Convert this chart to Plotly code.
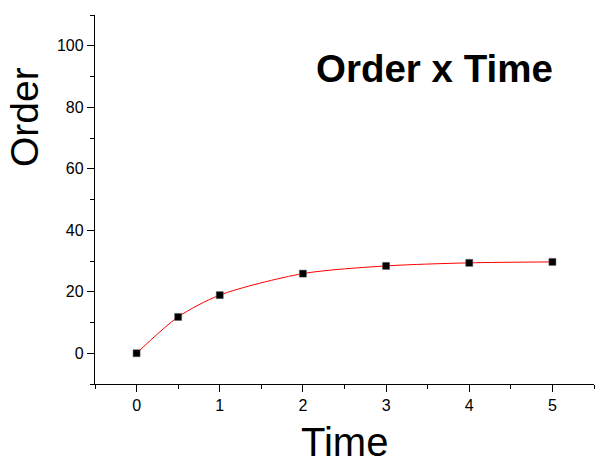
import plotly.graph_objects as go

time = [0, 0.5, 1, 2, 3, 4, 5]
order = [0, 11.8, 18.9, 25.9, 28.4, 29.4, 29.7]
title_text = "Order x Time"
x_title = "Time"
y_title = "Order"
y_ticks = [0, 20, 40, 60, 80, 100]
x_ticks = [0, 1, 2, 3, 4, 5]

font = "Liberation Sans, Arial, sans-serif"

fig = go.Figure()
fig.add_trace(go.Scatter(
    x=time, y=order, mode="lines",
    line=dict(color="#ff0000", width=1, shape="spline", smoothing=0.8),
    hoverinfo="skip", showlegend=False,
))
fig.add_trace(go.Scatter(
    x=time, y=order, mode="markers",
    marker=dict(symbol="square", size=7, color="black",
                line=dict(color="#555555", width=0.5)),
    showlegend=False,
))

axis_common = dict(
    showgrid=False, zeroline=False, showline=True, linecolor="black", linewidth=1.3,
    ticks="outside", ticklen=7, tickwidth=1.3, tickcolor="black",
    tickfont=dict(family=font, size=16, color="black"),
)

fig.update_xaxes(range=[-0.5, 5.5], tickvals=x_ticks,
                 minor=dict(dtick=0.5, ticks="outside", ticklen=4, tickwidth=1.3, tickcolor="black"),
                 **axis_common)
fig.update_yaxes(range=[-10, 110], tickvals=y_ticks,
                 minor=dict(dtick=10, ticks="outside", ticklen=4, tickwidth=1.3, tickcolor="black"),
                 **axis_common)

fig.add_annotation(text="<b>" + title_text + "</b>", xref="paper", yref="paper",
                   x=0.681, y=0.856, xanchor="center", yanchor="middle", showarrow=False,
                   font=dict(family=font, size=38.5, color="black"))
fig.add_annotation(text=y_title, xref="paper", yref="paper", textangle=-90,
                   x=-0.140, y=0.724, xanchor="center", yanchor="middle", showarrow=False,
                   font=dict(family=font, size=39, color="black"))
fig.add_annotation(text=x_title, xref="paper", yref="paper",
                   x=0.501, y=-0.220, xanchor="center", yanchor="bottom", showarrow=False,
                   height=42, valign="middle",
                   font=dict(family=font, size=40, color="black"))

fig.update_layout(
    width=595, height=466,
    margin=dict(l=95, r=1, t=15, b=82),
    plot_bgcolor="white", paper_bgcolor="white",
    font=dict(family=font, color="black"),
)

fig.write_html("out.html", config={"displayModeBar": False},
               post_script="document.body.style.margin='0';document.body.style.overflow='hidden';")
